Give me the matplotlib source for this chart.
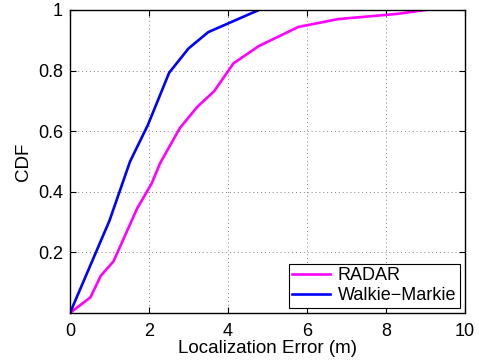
import matplotlib
matplotlib.use("Agg")
import matplotlib.pyplot as plt

radar_x = [0, 0.52, 0.78, 1.1, 1.7, 2.07, 2.28, 2.78, 3.22, 3.65, 4.14, 4.78, 5.78, 6.79, 8.27, 9.0]
radar_y = [0, 0.052, 0.123, 0.17, 0.345, 0.428, 0.494, 0.61, 0.68, 0.732, 0.824, 0.881, 0.944, 0.97, 0.987, 1.0]
wm_x = [0, 1.0, 1.52, 1.97, 2.51, 3.0, 3.5, 4.78]
wm_y = [0, 0.305, 0.5, 0.62, 0.793, 0.873, 0.927, 1.0]
xticks = [0, 2, 4, 6, 8, 10]
yticks = [0.2, 0.4, 0.6, 0.8, 1.0]
ytick_labels = ["0.2", "0.4", "0.6", "0.8", "1"]

plt.rcParams['font.family'] = ['Liberation Sans', 'DejaVu Sans']
fig = plt.figure(figsize=(4.79, 3.62), dpi=100)
ax = fig.add_axes([70/479, 49/362, 395/479, 303/362])
ax.plot(radar_x, radar_y, color=(1, 0, 1), lw=1.9, label='RADAR')
ax.plot(wm_x, wm_y, color=(0, 0, 1), lw=1.9, label='Walkie\u2212Markie')
ax.set_xlim(0, 10)
ax.set_ylim(0, 1)
ax.set_xticks(xticks)
ax.set_xticklabels([str(t) for t in xticks])
ax.set_yticks(yticks)
ax.set_yticklabels(ytick_labels)
ax.tick_params(direction='in', top=True, right=True, labelsize=13, length=4, width=0.8)
ax.tick_params(axis='x', pad=7.5)
ax.tick_params(axis='y', pad=5)
ax.grid(True, linestyle=(0, (1, 3)), color='#808080', linewidth=0.7)
for s in ax.spines.values():
    s.set_linewidth(1.0)
ax.set_xlabel('Localization Error (m)', fontsize=13.5, labelpad=0)
ax.set_ylabel('CDF', fontsize=13.5, labelpad=4)
leg = ax.legend(loc='lower right', fontsize=13, fancybox=False, framealpha=1,
                edgecolor='black', handlelength=2.1, borderpad=0.2,
                labelspacing=0.15, handletextpad=0.4, borderaxespad=0.3)
leg.get_frame().set_linewidth(0.8)
fig.savefig('out.png', dpi=100)
